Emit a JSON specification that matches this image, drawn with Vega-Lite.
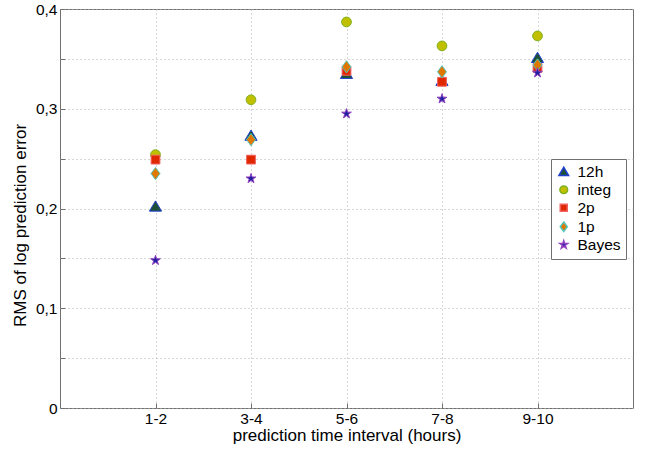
{
  "$schema": "https://vega.github.io/schema/vega-lite/v6.json",
  "width": 573,
  "height": 399,
  "autosize": {"type": "none"},
  "padding": {"left": 60, "top": 9, "right": 15, "bottom": 45},
  "background": "white",
  "config": {
    "font": "Liberation Sans",
    "view": {"stroke": "#707070", "strokeWidth": 1}
  },
  "data": {
    "values": [
      {"interval": "1-2", "series": "12h", "rms": 0.202},
      {"interval": "3-4", "series": "12h", "rms": 0.273},
      {"interval": "5-6", "series": "12h", "rms": 0.335},
      {"interval": "7-8", "series": "12h", "rms": 0.328},
      {"interval": "9-10", "series": "12h", "rms": 0.351},
      {"interval": "1-2", "series": "integ", "rms": 0.254},
      {"interval": "3-4", "series": "integ", "rms": 0.309},
      {"interval": "5-6", "series": "integ", "rms": 0.387},
      {"interval": "7-8", "series": "integ", "rms": 0.363},
      {"interval": "9-10", "series": "integ", "rms": 0.373},
      {"interval": "1-2", "series": "2p", "rms": 0.249},
      {"interval": "3-4", "series": "2p", "rms": 0.249},
      {"interval": "5-6", "series": "2p", "rms": 0.338},
      {"interval": "7-8", "series": "2p", "rms": 0.327},
      {"interval": "9-10", "series": "2p", "rms": 0.341},
      {"interval": "1-2", "series": "1p", "rms": 0.235},
      {"interval": "3-4", "series": "1p", "rms": 0.269},
      {"interval": "5-6", "series": "1p", "rms": 0.342},
      {"interval": "7-8", "series": "1p", "rms": 0.337},
      {"interval": "9-10", "series": "1p", "rms": 0.344},
      {"interval": "1-2", "series": "Bayes", "rms": 0.148},
      {"interval": "3-4", "series": "Bayes", "rms": 0.23},
      {"interval": "5-6", "series": "Bayes", "rms": 0.295},
      {"interval": "7-8", "series": "Bayes", "rms": 0.31},
      {"interval": "9-10", "series": "Bayes", "rms": 0.336}
    ]
  },
  "mark": {"type": "point", "filled": true, "opacity": 1, "strokeWidth": 1, "size": 95},
  "encoding": {
    "x": {
      "field": "interval",
      "type": "ordinal",
      "sort": ["1-2", "3-4", "5-6", "7-8", "9-10"],
      "scale": {"type": "point", "padding": 1},
      "axis": {
        "title": "prediction time interval (hours)",
        "titleFontSize": 17,
        "titleFontWeight": "normal",
        "titleColor": "black",
        "titlePadding": 1,
        "labelAngle": 0,
        "labelFontSize": 15.5,
        "labelColor": "black",
        "labelPadding": 8,
        "domain": false,
        "ticks": true,
        "tickSize": -5,
        "tickColor": "#707070",
        "grid": true,
        "gridDash": [1, 3],
        "gridColor": "#b0b0b0",
        "gridWidth": 1
      }
    },
    "y": {
      "field": "rms",
      "type": "quantitative",
      "scale": {"domain": [0, 0.4], "nice": false, "zero": true},
      "axis": {
        "title": "RMS of log prediction error",
        "titleFontSize": 17,
        "titleFontWeight": "normal",
        "titleColor": "black",
        "titlePadding": 6,
        "titleY": 216,
        "values": [0, 0.05, 0.1, 0.15, 0.2, 0.25, 0.3, 0.35, 0.4],
        "labelExpr": "datum.value == 0 ? '0' : (round(datum.value * 100) % 10 == 0 ? replace(format(datum.value, '.1f'), '.', ',') : '')",
        "labelFontSize": 15.5,
        "labelColor": "black",
        "labelPadding": 8,
        "domain": false,
        "ticks": true,
        "tickSize": -5,
        "tickColor": "#707070",
        "grid": true,
        "gridDash": [1, 3],
        "gridColor": "#b0b0b0",
        "gridWidth": 1
      }
    },
    "shape": {
      "field": "series",
      "type": "nominal",
      "sort": ["12h", "integ", "2p", "1p", "Bayes"],
      "scale": {
        "domain": ["12h", "integ", "2p", "1p", "Bayes"],
        "range": [
          "M-1.25,0.95L1.25,0.95L0,-1.15Z",
          "circle",
          "M-0.9,-0.9L0.9,-0.9L0.9,0.9L-0.9,0.9Z",
          "M0,-1.25L0.92,0L0,1.25L-0.92,0Z",
          "M0,-1.05L0.236,-0.325L0.999,-0.325L0.381,0.124L0.617,0.849L0,0.401L-0.617,0.849L-0.381,0.124L-0.999,-0.325L-0.236,-0.325Z"
        ]
      },
      "legend": {
        "title": null,
        "orient": "none",
        "legendX": 491,
        "legendY": 150,
        "strokeColor": "#707070",
        "fillColor": "white",
        "padding": 5,
        "labelFontSize": 15.5,
        "labelColor": "black",
        "symbolSize": 60,
        "rowPadding": 1,
        "labelOffset": 6
      }
    },
    "fill": {
      "field": "series",
      "type": "nominal",
      "sort": ["12h", "integ", "2p", "1p", "Bayes"],
      "scale": {
        "domain": ["12h", "integ", "2p", "1p", "Bayes"],
        "range": ["#1e5035", "#c0c000", "#e02800", "#e07800", "#2020a0"]
      }
    },
    "stroke": {
      "field": "series",
      "type": "nominal",
      "sort": ["12h", "integ", "2p", "1p", "Bayes"],
      "scale": {
        "domain": ["12h", "integ", "2p", "1p", "Bayes"],
        "range": ["#2040d0", "#80b020", "#f06060", "#50c8c0", "#9040c0"]
      }
    }
  }
}
